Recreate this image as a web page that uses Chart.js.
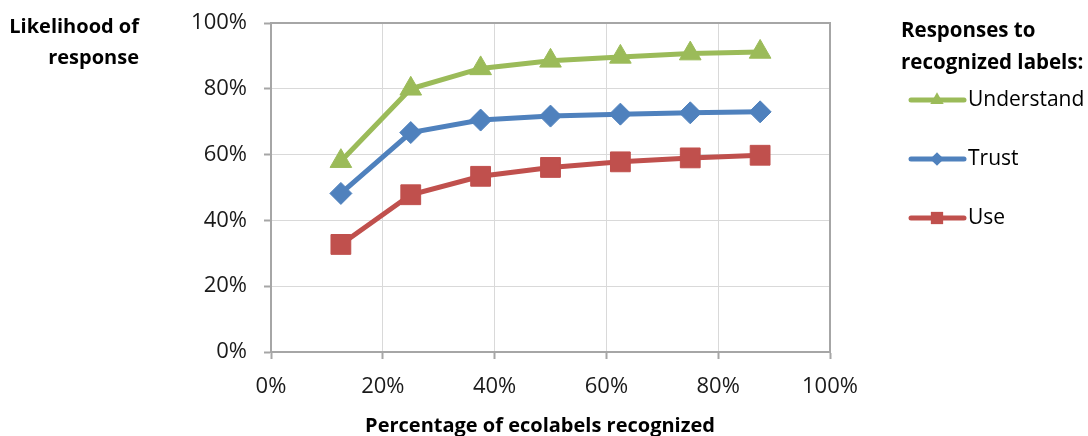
<!DOCTYPE html>
<html>
<head>
<meta charset="utf-8">
<script src="https://cdn.jsdelivr.net/npm/chart.js@4.4.1/dist/chart.umd.min.js"></script>
<style>
  html, body { margin: 0; padding: 0; background: #ffffff; }
  #wrap { width: 1088px; height: 436px; position: relative; }
</style>
</head>
<body>
<div id="wrap"><canvas id="chart" width="1088" height="436"></canvas></div>
<script>
// Share of ecolabels a respondent recognizes (x) and the likelihood of each response (y)
const recognizedShare = [0.125, 0.25, 0.375, 0.5, 0.625, 0.75, 0.875];
const understandValues = [0.58, 0.80, 0.862, 0.885, 0.897, 0.907, 0.912];
const trustValues = [0.482, 0.667, 0.705, 0.717, 0.723, 0.727, 0.730];
const useValues = [0.327, 0.478, 0.534, 0.561, 0.578, 0.590, 0.598];

const seriesNames = ['Understand', 'Trust', 'Use'];
const seriesColors = ['#9BBB59', '#4F81BD', '#C0504D'];
const seriesMarkers = ['triangle', 'rectRot', 'rect'];
const seriesRadius = [12.5, 11, 14];

const yTitleLines = ['Likelihood of', 'response'];
const xTitle = 'Percentage of ecolabels recognized';
const legendTitleLines = ['Responses to', 'recognized labels:'];

const FONT = '"Open Sans", "DejaVu Sans", sans-serif';

function toPoints(values) {
  return values.map((v, i) => ({ x: recognizedShare[i], y: v }));
}

const seriesValues = [understandValues, trustValues, useValues];
const datasets = seriesNames.map((name, i) => ({
  label: name,
  data: toPoints(seriesValues[i]),
  borderColor: seriesColors[i],
  backgroundColor: seriesColors[i],
  pointBackgroundColor: seriesColors[i],
  pointBorderColor: seriesColors[i],
  pointBorderWidth: 1,
  pointStyle: seriesMarkers[i],
  pointRadius: seriesRadius[i],
  pointHoverRadius: seriesRadius[i],
  borderWidth: 5,
  tension: 0,
  fill: false
}));

function pct(v) { return Math.round(v * 100) + '%'; }

// Draws a small marker in the same shape the line uses
function marker(ctx, style, x, y, r, color) {
  ctx.save();
  ctx.fillStyle = color;
  ctx.beginPath();
  if (style === 'triangle') {
    ctx.moveTo(x, y - r);
    ctx.lineTo(x + r * 0.866, y + r * 0.5);
    ctx.lineTo(x - r * 0.866, y + r * 0.5);
  } else if (style === 'rectRot') {
    ctx.moveTo(x, y - r);
    ctx.lineTo(x + r, y);
    ctx.lineTo(x, y + r);
    ctx.lineTo(x - r, y);
  } else {
    const s = r * Math.SQRT1_2;
    ctx.rect(x - s, y - s, 2 * s, 2 * s);
  }
  ctx.closePath();
  ctx.fill();
  ctx.restore();
}

const decorations = {
  id: 'decorations',
  beforeDatasetsDraw(chart) {
    const { ctx, chartArea: a } = chart;
    ctx.save();
    ctx.strokeStyle = '#a6a6a6';
    ctx.lineWidth = 2;
    ctx.beginPath();
    ctx.moveTo(a.left, a.top);
    ctx.lineTo(a.right, a.top);
    ctx.lineTo(a.right, a.bottom);
    ctx.stroke();
    ctx.restore();
  },
  afterDraw(chart) {
    const { ctx } = chart;
    ctx.save();
    ctx.fillStyle = '#000000';
    ctx.textBaseline = 'alphabetic';

    // y-axis title, right-aligned at the top left
    ctx.font = 'bold 20px ' + FONT;
    ctx.textAlign = 'right';
    ctx.fillText(yTitleLines[0], 139, 33);
    ctx.fillText(yTitleLines[1], 139, 64);

    // x-axis title
    ctx.textAlign = 'center';
    ctx.fillText(xTitle, 540, 432);

    // legend title
    ctx.textAlign = 'left';
    ctx.font = 'bold 20.5px ' + FONT;
    ctx.fillText(legendTitleLines[0], 901, 37);
    ctx.fillText(legendTitleLines[1], 901, 69);

    // legend entries
    const rowY = [100, 159, 218];
    ctx.font = '21px ' + FONT;
    seriesNames.forEach((name, i) => {
      const y = rowY[i];
      ctx.strokeStyle = seriesColors[i];
      ctx.lineWidth = 5;
      ctx.lineCap = 'round';
      ctx.beginPath();
      ctx.moveTo(911, y);
      ctx.lineTo(964, y);
      ctx.stroke();
      marker(ctx, seriesMarkers[i], 937, y, seriesRadius[i] * 0.62, seriesColors[i]);
      ctx.fillStyle = '#000000';
      ctx.textBaseline = 'middle';
      ctx.fillText(name, 968, y);
    });
    ctx.restore();
  }
};

new Chart(document.getElementById('chart'), {
  type: 'line',
  data: { datasets },
  plugins: [decorations],
  options: {
    responsive: false,
    animation: false,
    events: [],
    layout: { padding: { left: 0, top: 23, right: 258, bottom: 0 } },
    plugins: { legend: { display: false }, tooltip: { enabled: false } },
    scales: {
      x: {
        type: 'linear',
        min: 0,
        max: 1,
        afterFit(scale) { scale.height = 84; scale.paddingLeft = 0; scale.paddingRight = 0; },
        ticks: {
          stepSize: 0.2,
          callback: pct,
          color: '#1a1a1a',
          font: { family: FONT, size: 22 },
          padding: 15,
          maxRotation: 0
        },
        grid: { color: '#d9d9d9', lineWidth: 1, tickColor: '#a6a6a6', tickWidth: 2, tickLength: 7 },
        border: { color: '#a6a6a6', width: 2 }
      },
      y: {
        type: 'linear',
        min: 0,
        max: 1,
        afterFit(scale) { scale.width = 271; scale.paddingTop = 0; scale.paddingBottom = 0; },
        ticks: {
          stepSize: 0.2,
          callback: pct,
          color: '#1a1a1a',
          font: { family: FONT, size: 22 },
          padding: 17
        },
        grid: { color: '#d9d9d9', lineWidth: 1, tickColor: '#a6a6a6', tickWidth: 2, tickLength: 7 },
        border: { color: '#a6a6a6', width: 2 }
      }
    }
  }
});
</script>
</body>
</html>
